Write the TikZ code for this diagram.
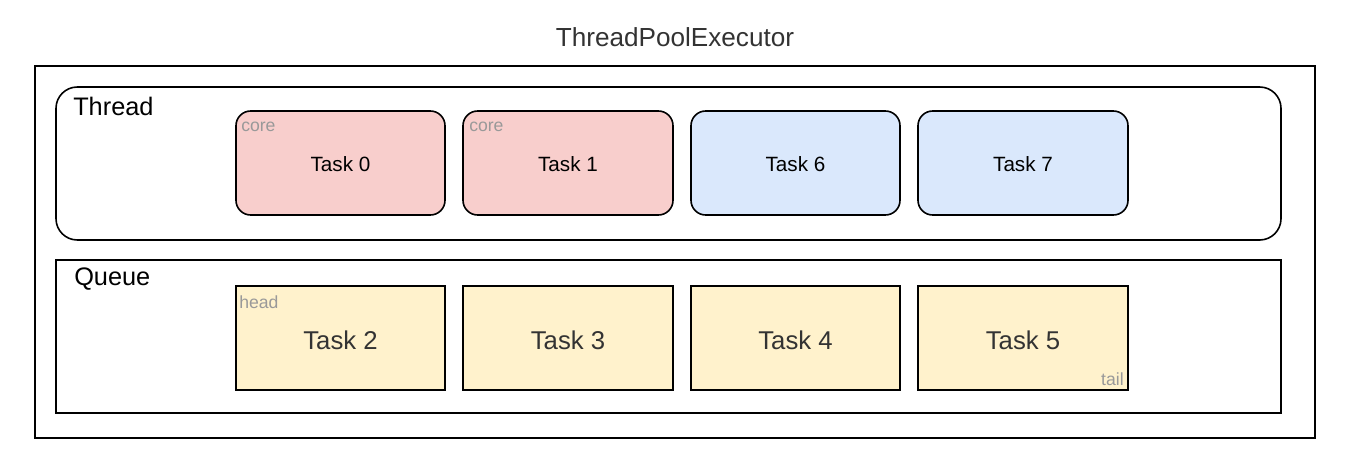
\documentclass[tikz,border=0pt]{standalone}
\usepackage{fontspec}
\setmainfont{Liberation Sans}
\definecolor{redfill}{HTML}{F8CECC}
\definecolor{bluefill}{HTML}{DAE8FC}
\definecolor{yellowfill}{HTML}{FFF2CC}
\definecolor{darktext}{HTML}{333333}
\definecolor{tagtext}{HTML}{999999}
\begin{document}
\begin{tikzpicture}[x=0.75pt,y=-0.75pt,
  frame/.style={draw=black,line width=1.2pt},
  taskbox/.style={draw=black,line width=1.2pt,rounded corners=11pt},
  qbox/.style={draw=black,line width=1.2pt,fill=yellowfill},
  tasklbl/.style={font=\fontsize{15.5}{18}\selectfont,text=black},
  qlbl/.style={font=\fontsize{19.3}{22}\selectfont,text=darktext},
  tag/.style={font=\fontsize{13.2}{15}\selectfont,text=tagtext,inner sep=0pt},
  grouplbl/.style={font=\fontsize{19}{22}\selectfont,text=black,inner sep=0pt,anchor=west}]
\useasboundingbox[fill=white] (0,0) rectangle (1346,457);
\node[font=\fontsize{19.6}{23}\selectfont,text=darktext] (title) at (675,37) {ThreadPoolExecutor};
\draw[frame] (35,66) rectangle (1315,438);
% Thread group
\draw[frame,rounded corners=16pt] (56,87) rectangle (1281,240);
\node[grouplbl] (thread) at (73,106) {Thread};
\draw[taskbox,fill=redfill] (236,111) rectangle (445,215);
\node[tasklbl] (t0) at (340.5,164) {Task 0};
\node[tag,anchor=west] (c0) at (241,127) {core};
\draw[taskbox,fill=redfill] (463,111) rectangle (673,215);
\node[tasklbl] (t1) at (568,164) {Task 1};
\node[tag,anchor=west] (c1) at (469,127) {core};
\draw[taskbox,fill=bluefill] (691,111) rectangle (900,215);
\node[tasklbl] (t6) at (795.5,164) {Task 6};
\draw[taskbox,fill=bluefill] (918,111) rectangle (1128,215);
\node[tasklbl] (t7) at (1023,164) {Task 7};
% Queue group
\draw[frame] (56,260) rectangle (1281,413);
\node[grouplbl] (queue) at (74,279) {Queue};
\draw[qbox] (236,286) rectangle (445,390);
\node[qlbl] (t2) at (340.5,340) {Task 2};
\node[tag,anchor=west] (hd) at (239,302) {head};
\draw[qbox] (463,286) rectangle (673,390);
\node[qlbl] (t3) at (568,340) {Task 3};
\draw[qbox] (691,286) rectangle (900,390);
\node[qlbl] (t4) at (795.5,340) {Task 4};
\draw[qbox] (918,286) rectangle (1128,390);
\node[qlbl] (t5) at (1023,340) {Task 5};
\node[tag,anchor=east] (tl) at (1124,379) {tail};
\end{tikzpicture}
\end{document}
